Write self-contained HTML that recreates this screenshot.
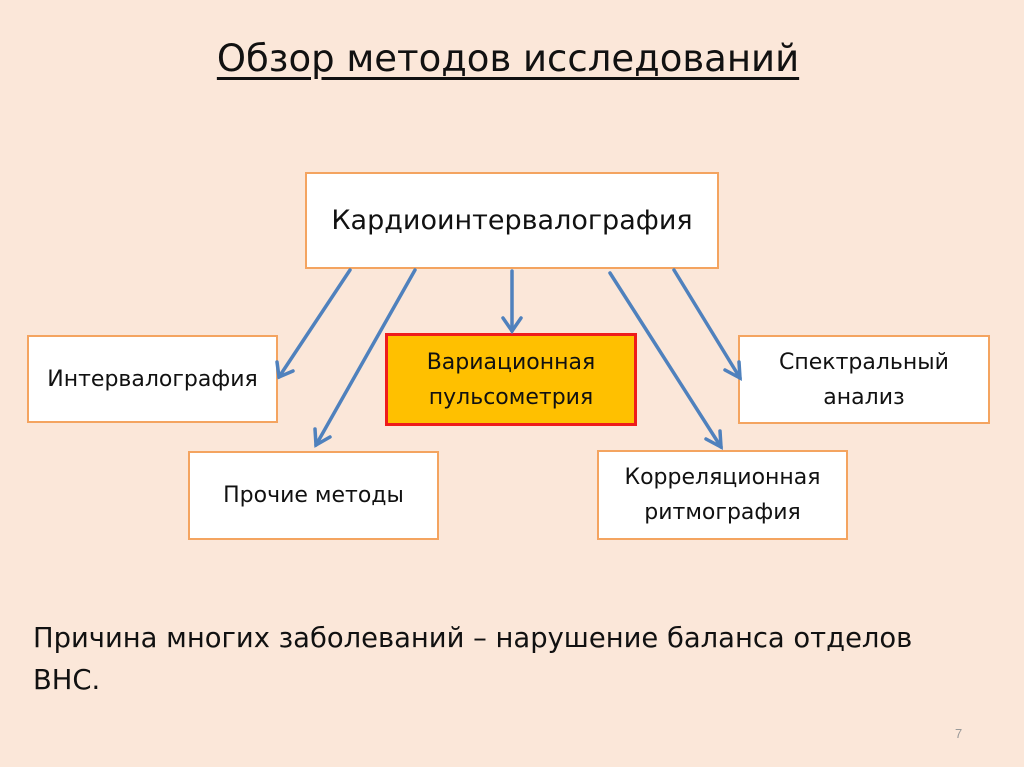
<!DOCTYPE html>
<html><head><meta charset="utf-8"><style>
body{margin:0;width:1024px;height:767px;background:#fbe7d9;font-family:"Liberation Sans","DejaVu Sans",sans-serif;position:relative;overflow:hidden}
.b{position:absolute;box-sizing:border-box;background:#fff;border:2px solid #f4a460;display:flex;align-items:center;justify-content:center;text-align:center;font-family:"DejaVu Sans","Liberation Sans",sans-serif;font-size:22px;line-height:35px;color:#111;white-space:nowrap}
.t{position:absolute;left:0;width:1016px;top:37px;text-align:center;font-size:37px;text-decoration:underline;text-underline-offset:6px;color:#111;font-family:"DejaVu Sans","Liberation Sans",sans-serif;font-weight:normal}
</style></head><body>
<div class="t">Обзор методов исследований</div>
<div class="b" style="left:305px;top:172px;width:414px;height:97px;font-size:27px">Кардиоинтервалография</div>
<div class="b" style="left:27px;top:335px;width:251px;height:88px">Интервалография</div>
<div class="b" style="left:385px;top:333px;width:252px;height:93px;background:#ffc000;border:3px solid #ee1c1c">Вариационная<br>пульсометрия</div>
<div class="b" style="left:738px;top:335px;width:252px;height:89px">Спектральный<br>анализ</div>
<div class="b" style="left:188px;top:451px;width:251px;height:89px">Прочие методы</div>
<div class="b" style="left:597px;top:450px;width:251px;height:90px">Корреляционная<br>ритмография</div>
<svg width="1024" height="767" style="position:absolute;left:0;top:0">
<g stroke="#4f81bd" stroke-width="3.5" fill="none" stroke-linecap="round">
<line x1="350" y1="270" x2="279" y2="377"/><polyline points="277,362 279,377 293,371"/>
<line x1="415" y1="270" x2="316" y2="445"/><polyline points="315,429 316,445 330,437"/>
<line x1="512" y1="271" x2="512" y2="331"/><polyline points="503,318 512,331 521,318"/>
<line x1="610" y1="273" x2="721" y2="447"/><polyline points="706,439 721,447 720,431"/>
<line x1="674" y1="270" x2="740" y2="378"/><polyline points="725,370 740,378 739,362"/>
</g></svg>
<div style="position:absolute;left:33px;top:618px;font-size:27.4px;line-height:42px;color:#111;font-family:'DejaVu Sans','Liberation Sans',sans-serif;white-space:nowrap">Причина многих заболеваний – нарушение баланса отделов<br>ВНС.</div>
<div style="position:absolute;left:955px;top:726px;font-size:13px;color:#999">7</div>
</body></html>
